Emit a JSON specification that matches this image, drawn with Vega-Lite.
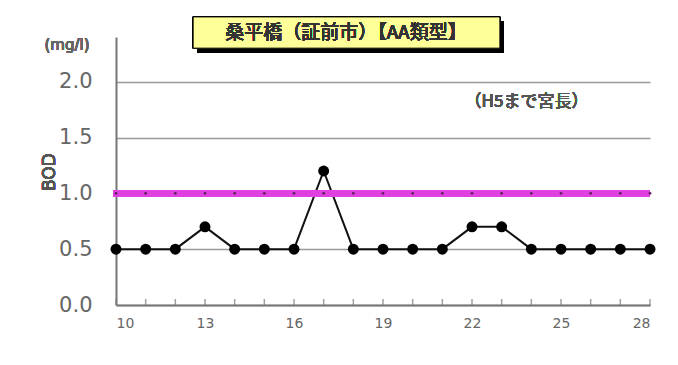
{
  "$schema": "https://vega.github.io/schema/vega-lite/v6.json",
  "width": 534,
  "height": 268,
  "autosize": "none",
  "padding": {"left": 116, "top": 37, "right": 28, "bottom": 60},
  "background": "white",
  "config": {"view": {"stroke": null}, "font": "Noto Sans CJK JP", "text": {"fontWeight": "normal"}},
  "data": {"values": [
    {"year": 10, "bod": 0.5}, {"year": 11, "bod": 0.5}, {"year": 12, "bod": 0.5},
    {"year": 13, "bod": 0.7}, {"year": 14, "bod": 0.5}, {"year": 15, "bod": 0.5},
    {"year": 16, "bod": 0.5}, {"year": 17, "bod": 1.2}, {"year": 18, "bod": 0.5},
    {"year": 19, "bod": 0.5}, {"year": 20, "bod": 0.5}, {"year": 21, "bod": 0.5},
    {"year": 22, "bod": 0.7}, {"year": 23, "bod": 0.7}, {"year": 24, "bod": 0.5},
    {"year": 25, "bod": 0.5}, {"year": 26, "bod": 0.5}, {"year": 27, "bod": 0.5},
    {"year": 28, "bod": 0.5}
  ]},
  "layer": [
    {
      "mark": {"type": "line", "color": "#111", "strokeWidth": 2},
      "encoding": {
        "x": {"field": "year", "type": "quantitative", "scale": {"domain": [10, 28], "nice": false, "zero": false},
          "axis": {"values": [10,13,16,19,22,25,28], "grid": false, "domainColor": "#777", "domainWidth": 2, "ticks": false, "labelColor": "#666", "labelFontSize": 14, "labelFont": "DejaVu Sans", "labelFontWeight": "normal", "labelPadding": 11, "title": null}},
        "y": {"field": "bod", "type": "quantitative", "scale": {"domain": [0, 2.4], "nice": false},
          "axis": {"values": [0, 0.5, 1, 1.5, 2], "format": ".1f", "grid": true, "gridColor": "#999", "gridWidth": 1.5, "domainColor": "#777", "domainWidth": 2, "ticks": false, "labelColor": "#666", "labelFontSize": 21, "labelFont": "DejaVu Sans", "labelFontWeight": "normal", "labelPadding": 24, "title": null}}
      }
    },
    {
      "mark": {"type": "tick", "color": "#777", "thickness": 1.5, "size": 6, "orient": "vertical", "yOffset": -3},
      "encoding": {
        "x": {"field": "year", "type": "quantitative"},
        "y": {"datum": 0}
      }
    },
    {
      "mark": {"type": "rule", "color": "#e040e0", "strokeWidth": 6, "clip": false},
      "encoding": {"y": {"datum": 1}, "x": {"datum": 9.9}, "x2": {"datum": 28}}
    },
    {
      "mark": {"type": "point", "filled": true, "color": "#602060", "size": 8, "opacity": 1},
      "encoding": {"x": {"field": "year", "type": "quantitative"}, "y": {"datum": 1}}
    },
    {
      "mark": {"type": "point", "filled": true, "color": "#000", "size": 120, "opacity": 1},
      "encoding": {"x": {"field": "year", "type": "quantitative"}, "y": {"field": "bod", "type": "quantitative"}}
    },
    {
      "mark": {"type": "rect", "color": "#000", "clip": false, "xOffset": 4, "yOffset": 4, "x2Offset": 4, "y2Offset": 4},
      "encoding": {"x": {"datum": 12.6}, "x2": {"datum": 22.94}, "y": {"datum": 2.58}, "y2": {"datum": 2.3}}
    },
    {
      "mark": {"type": "rect", "color": "#ffff99", "stroke": "#000", "strokeWidth": 1, "clip": false},
      "encoding": {"x": {"datum": 12.6}, "x2": {"datum": 22.94}, "y": {"datum": 2.58}, "y2": {"datum": 2.3}}
    },
    {
      "mark": {"type": "text", "text": "桑平橋（証前市）【AA類型】", "fontSize": 19, "fontWeight": "normal", "color": "#333", "clip": false, "align": "center", "baseline": "middle"},
      "encoding": {"x": {"datum": 17.75}, "y": {"datum": 2.44}}
    },
    {
      "mark": {"type": "text", "text": "（H5まで宮長）", "fontSize": 17, "fontWeight": "normal", "color": "#555", "clip": false, "align": "left", "baseline": "middle"},
      "encoding": {"x": {"datum": 21.75}, "y": {"datum": 1.82}}
    },
    {
      "mark": {"type": "text", "text": "(mg/l)", "fontSize": 15, "fontWeight": "normal", "color": "#666", "font": "DejaVu Sans", "clip": false, "align": "center", "baseline": "middle"},
      "encoding": {"x": {"datum": 8.35}, "y": {"datum": 2.33}}
    },
    {
      "mark": {"type": "text", "text": "BOD", "fontSize": 17, "fontWeight": "normal", "color": "#555", "font": "DejaVu Sans", "angle": 270, "clip": false, "align": "center", "baseline": "middle"},
      "encoding": {"x": {"datum": 7.78}, "y": {"datum": 1.19}}
    }
  ]
}
